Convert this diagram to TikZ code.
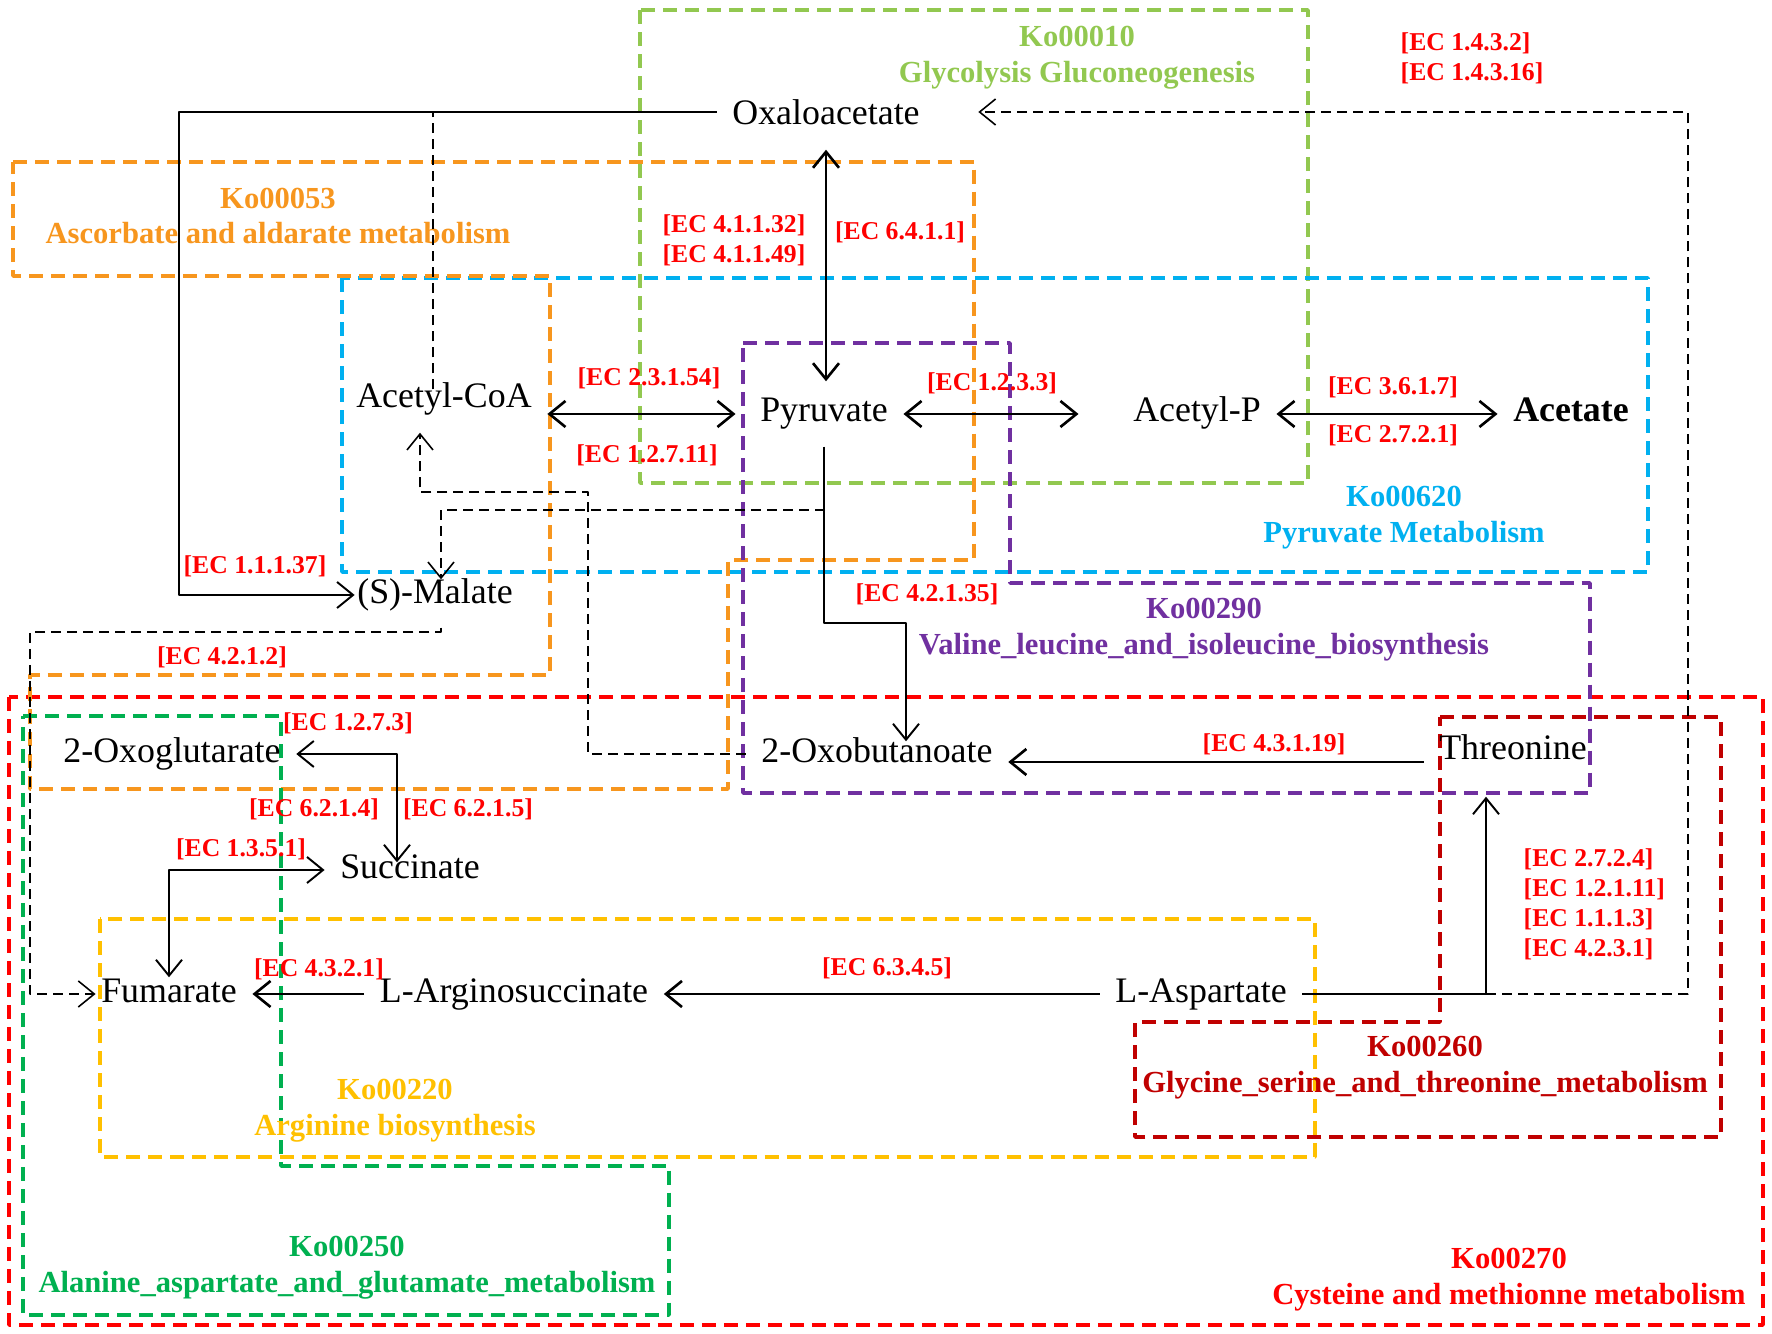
\documentclass[tikz,border=0pt]{standalone}
\usepackage{fontspec}
\setmainfont{Liberation Serif}
\usetikzlibrary{arrows.meta}
\definecolor{kogreen}{RGB}{146,200,80}
\definecolor{koorange}{RGB}{247,150,30}
\definecolor{koblue}{RGB}{0,176,240}
\definecolor{kopurple}{RGB}{112,48,160}
\definecolor{kodkgreen}{RGB}{0,176,80}
\definecolor{koyellow}{RGB}{255,192,0}
\definecolor{kodkred}{RGB}{192,0,0}
\definecolor{ecred}{RGB}{255,0,0}
\begin{document}
\begin{tikzpicture}[x=0.01cm,y=-0.01cm,>={Straight Barb[length=1.6mm,width=2.6mm]}, line join=round,
	met/.style={inner xsep=1.5mm,inner ysep=1.6mm,text height=2.4mm,text depth=0.8mm,font=\fontsize{10.2}{12}\selectfont},
	ec/.style={text=ecred,inner sep=0pt,font=\fontsize{7.3}{8.6}\selectfont\bfseries},
	ko/.style={inner sep=0pt,align=center,font=\fontsize{8.7}{10.2}\selectfont\bfseries},
	kobox/.style={line width=1pt,dash pattern=on 1.4mm off 0.8mm},
	rxn/.style={line width=0.75pt},
	thinrxn/.style={line width=0.55pt},
	aux/.style={line width=0.45pt,dash pattern=on 1mm off 0.6mm}]
	\useasboundingbox (0,0) rectangle (1772,1334);
	% pathway boxes
	\foreach \c/\p/\q in {kogreen/{640,10}/{1308,483},koblue/{342,278}/{1648,572},red/{9,697}/{1763,1325},koyellow/{100,919}/{1315,1157}}{
		\draw[kobox,\c](\p) rectangle (\q);
	}
	\draw[kobox,koorange] (13,162)--(974,162)--(974,560)--(728,560)--(728,789)--(30,789)--(30,675)--(550,675)--(550,276)--(13,276)--cycle;
	\draw[kobox,kopurple] (743,343)--(1010,343)--(1010,583)--(1590,583)--(1590,793)--(743,793)--cycle;
	\draw[kobox,kodkgreen] (23,716)--(281,716)--(281,1166)--(669,1166)--(669,1315)--(23,1315)--cycle;
	\draw[kobox,kodkred] (1440,717)--(1721,717)--(1721,1137)--(1135,1137)--(1135,1022)--(1440,1022)--cycle;
	\node[ko,text=kogreen] (t00010) at (1077,58) {Ko00010\\Glycolysis Gluconeogenesis};
	\node[ko,text=koorange] (t00053) at (278,216) {Ko00053\\Ascorbate and aldarate metabolism};
	\node[ko,text=koblue] (t00620) at (1404,518) {Ko00620\\Pyruvate Metabolism};
	\node[ko,text=kopurple] (t00290) at (1204,630) {Ko00290\\Valine\_leucine\_and\_isoleucine\_biosynthesis};
	\node[ko,text=kodkred] (t00260) at (1425,1068) {Ko00260\\Glycine\_serine\_and\_threonine\_metabolism};
	\node[ko,text=koyellow] (t00220) at (395,1111) {Ko00220\\Arginine biosynthesis};
	\node[ko,text=kodkgreen] (t00250) at (347,1268) {Ko00250\\Alanine\_aspartate\_and\_glutamate\_metabolism};
	\node[ko,text=red] (t00270) at (1509,1280) {Ko00270\\Cysteine and methionne metabolism};
	% metabolites
	\node[met] (oxa) at (826,117) {Oxaloacetate};
	\node[met] (acoa) at (444,400) {Acetyl-CoA};
	\node[met] (pyr) at (824,414) {Pyruvate};
	\node[met] (acp) at (1197,414) {Acetyl-P};
	\node[met] (ace) at (1571,414) {\bfseries Acetate};
	\node[met] (mal) at (435,595) {(S)-Malate};
	\node[met] (oxg) at (172,754) {2-Oxoglutarate};
	\node[met] (suc) at (410,870) {Succinate};
	\node[met] (oxb) at (877,754) {2-Oxobutanoate};
	\node[met] (thr) at (1513,752) {Threonine};
	\node[met] (fum) at (169,994) {Fumarate};
	\node[met] (arg) at (514,994) {L-Arginosuccinate};
	\node[met] (asp) at (1201,994) {L-Aspartate};
	% corners
	\path (906,623) coordinate (kPB)
		(1486,994) coordinate (kAT)
		(1688,994) coordinate (kRT)
		(30,632) coordinate (kMF)
		(179,0) coordinate (kOM)
		(825,510) coordinate (kPM)
		(588,492) coordinate (kBA);
	% reactions
	\draw[rxn,<->] (oxa.south) -- (oxa.south |- pyr.north);
	\draw[rxn,<->,shorten >=0.9mm] (acoa.east |- pyr.west) -- (pyr.west);
	\draw[rxn,<->,shorten >=3.9mm] (pyr.east) -- (acp.west);
	\draw[rxn,<->] (acp.east) -- (ace.west);
	\draw[thinrxn,->,shorten >=-2mm] (pyr.south) |- (kPB) -- (kPB |- oxb.north);
	\draw[rxn,->] (thr.west |- 0,762) -- (oxb.east |- 0,762);
	\draw[thinrxn,->,shorten >=1.2mm] (asp.east) -- (kAT) -- (kAT |- thr.south);
	\draw[aux,->,shorten >=4.3mm] (kAT) -- (kRT) |- ([yshift=0.5mm]oxa.east);
	\draw[rxn,->] (asp.west) -- (arg.east);
	\draw[rxn,->] (arg.west) -- (fum.east);
	\draw[aux,->,shorten >=-1mm] ([xshift=0.6mm]mal.south) |- (kMF) |- (fum.west);
	\draw[thinrxn,->,shorten >=-1.3mm] ([yshift=0.5mm]oxa.west) -- ([yshift=0.5mm]oxa.west -| kOM) |- (mal.west);
	\draw[aux,shorten <=-2.2mm] ([xshift=-1.1mm]acoa.north) -- ([xshift=-1.1mm,yshift=0.5mm]acoa.north |- oxa.west);
	\draw[aux,->,shorten >=-1.7mm] (kPM) -| ([xshift=0.6mm]mal.north);
	\draw[aux,->] (oxb.west) -| (kBA) -| ([xshift=-2.4mm]acoa.south);
	\draw[thinrxn,<->,shorten >=-2.5mm] (oxg.east) -| ([xshift=-1.3mm]suc.north);
	\draw[thinrxn,<->,shorten >=-1.6mm] (suc.west) -| (fum.north);
	% enzymes
	\node[ec,anchor=west,align=left] (ec143) at (1400,58) {[EC 1.4.3.2]\\{[EC 1.4.3.16]}};
	\node[ec,align=left] (ec411) at (734,240) {[EC 4.1.1.32]\\{[EC 4.1.1.49]}};
	\node[ec] (ec6411) at (900,232) {[EC 6.4.1.1]};
	\node[ec] (ec23154) at (649,378) {[EC 2.3.1.54]};
	\node[ec] (ec12711) at (647,455) {[EC 1.2.7.11]};
	\node[ec] (ec1233) at (992,383) {[EC 1.2.3.3]};
	\node[ec] (ec3617) at (1393,387) {[EC 3.6.1.7]};
	\node[ec] (ec2721) at (1393,435) {[EC 2.7.2.1]};
	\node[ec] (ec11137) at (255,566) {[EC 1.1.1.37]};
	\node[ec] (ec42135) at (927,594) {[EC 4.2.1.35]};
	\node[ec] (ec4212) at (222,657) {[EC 4.2.1.2]};
	\node[ec] (ec1273) at (348,723) {[EC 1.2.7.3]};
	\node[ec] (ec6214) at (314,809) {[EC 6.2.1.4]};
	\node[ec] (ec6215) at (468,809) {[EC 6.2.1.5]};
	\node[ec] (ec1351) at (241,849) {[EC 1.3.5.1]};
	\node[ec] (ec4321) at (319,969) {[EC 4.3.2.1]};
	\node[ec] (ec6345) at (887,968) {[EC 6.3.4.5]};
	\node[ec] (ec43119) at (1274,744) {[EC 4.3.1.19]};
	\node[ec,anchor=west,align=left,font=\fontsize{7.3}{8.5}\selectfont\bfseries] (ec2724) at (1523,904) {[EC 2.7.2.4]\\{[EC 1.2.1.11]}\\{[EC 1.1.1.3]}\\{[EC 4.2.3.1]}};
\end{tikzpicture}
\end{document}
